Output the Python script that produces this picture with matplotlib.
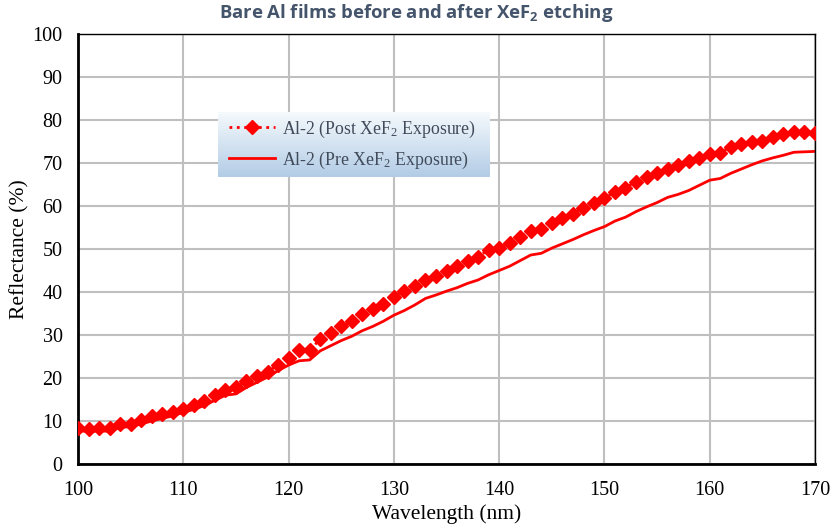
import numpy as np
import matplotlib
matplotlib.use("Agg")
import matplotlib.pyplot as plt

plt.rcParams['font.family'] = ['Liberation Serif', 'DejaVu Serif']

wavelength = list(range(100, 171))

post = [8.3, 8.2, 8.4, 8.4, 9.3, 9.4, 10.3, 11.1, 11.6, 12.0,
        12.7, 13.8, 14.6, 16.0, 17.3, 17.8, 19.3, 20.5, 21.5, 23.0,
        24.6, 26.5, 26.5, 29.0, 30.5, 32.0, 33.2, 34.8, 36.0, 37.3,
        38.9, 40.2, 41.3, 42.7, 43.7, 45.0, 46.0, 47.2, 48.2, 49.8,
        50.3, 51.3, 52.7, 54.3, 54.7, 56.0, 57.2, 58.2, 59.6, 60.7,
        61.8, 63.3, 64.3, 65.5, 66.8, 67.6, 68.7, 69.5, 70.5, 71.2,
        72.2, 72.4, 73.8, 74.5, 74.8, 75.2, 76.0, 76.8, 77.3, 77.3,
        77.0]

pre = [7.8, 7.5, 7.7, 7.6, 8.5, 8.7, 9.3, 10.0, 10.6, 11.2,
       12.0, 12.7, 13.6, 14.8, 16.0, 16.3, 17.8, 19.0, 20.2, 21.7,
       23.0, 24.0, 24.2, 26.3, 27.5, 28.7, 29.7, 31.0, 32.0, 33.2,
       34.6, 35.7, 37.0, 38.5, 39.3, 40.2, 41.0, 42.0, 42.8, 44.0,
       45.0, 46.0, 47.3, 48.6, 49.0, 50.2, 51.2, 52.2, 53.3, 54.3,
       55.2, 56.5, 57.4, 58.7, 59.8, 60.8, 62.0, 62.7, 63.6, 64.8,
       66.0, 66.4, 67.6, 68.6, 69.6, 70.5, 71.2, 71.8, 72.5, 72.6,
       72.7]

labels = [r'Al-2 (Post XeF$\mathregular{_2}$ Exposure)',
          r'Al-2 (Pre XeF$\mathregular{_2}$ Exposure)']

fig = plt.figure(figsize=(8.32, 5.31), dpi=100)
ax = fig.add_axes([78/832, 1-464/531, 737/832, 430/531])

l1, = ax.plot(wavelength, post, color='#ff0000', linestyle=':', linewidth=2,
              marker='D', markersize=7, zorder=3)
l2, = ax.plot(wavelength, pre, color='#ff0000', linestyle='-', linewidth=2, zorder=2)

ax.set_xlim(100, 170)
ax.set_ylim(0, 100)
ax.set_xticks(range(100, 171, 10))
ax.set_yticks(range(0, 101, 10))
ax.grid(True, color='#bfbfbf', linewidth=1.5)
ax.set_axisbelow(True)
ax.tick_params(length=0, labelsize=14.5)
ax.tick_params(axis='x', pad=12)
ax.tick_params(axis='y', pad=11)
for s in ['left', 'bottom']:
    ax.spines[s].set_linewidth(2)
for s in ['top', 'right']:
    ax.spines[s].set_linewidth(1)
ax.set_xlabel('Wavelength (nm)', fontsize=15.5, labelpad=3)
ax.set_ylabel('Reflectance (%)', fontsize=15.5, labelpad=2)

fig.text(0.5, 0.976, r'Bare Al films before and after XeF$\mathregular{_2}$ etching',
         ha='center', va='center', fontsize=13.3, fontweight='bold',
         color='#44546a', family=['Open Sans', 'DejaVu Sans'])

# legend box with gradient background
lax = fig.add_axes([218/832, 1-177/531, 272/832, 65/531])
grad = np.linspace(0, 1, 100).reshape(-1, 1)
top = np.array([0.96, 0.98, 0.99])
bot = np.array([0.70, 0.80, 0.90])
img = top + grad[..., None] * (bot - top)
lax.imshow(img, aspect='auto', extent=[0, 1, 0, 1])
lax.set_axis_off()
lax.legend([l1, l2], labels, loc='center left', frameon=False, fontsize=12.8,
           handlelength=2.6, handletextpad=0.4, labelcolor='#404a5a',
           borderaxespad=0.2, labelspacing=0.55)

fig.savefig('out.png', dpi=100)
